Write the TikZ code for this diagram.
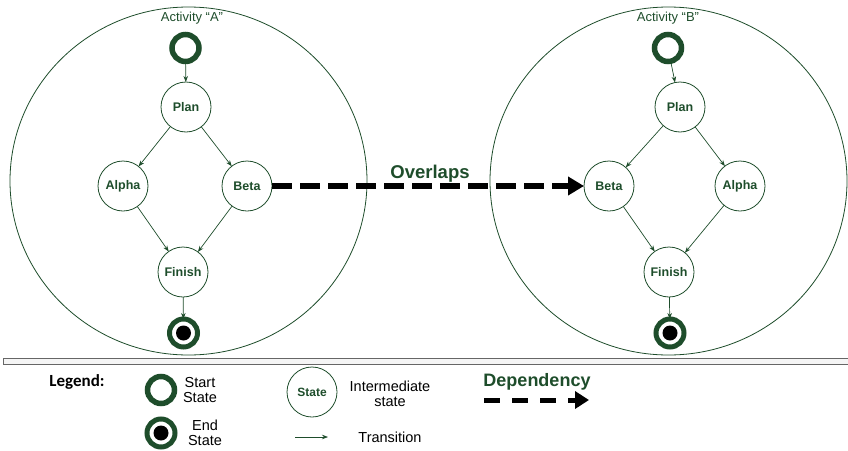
\documentclass[tikz,border=0pt]{standalone}
\usepackage{fontspec}
\setmainfont{Liberation Sans}
\newfontfamily\calf{Carlito}
\usetikzlibrary{arrows.meta,shapes.geometric}
\definecolor{dg}{HTML}{1E4D2B}
\begin{document}
\begin{tikzpicture}[x=1pt,y=-1pt,
  every node/.style={inner sep=0pt,outer sep=0pt},
  act/.style={draw=dg,line width=0.8pt,ellipse,minimum width=357pt,minimum height=348pt},
  st/.style={draw=dg,line width=0.8pt,circle,minimum size=50pt,font=\bfseries\fontsize{12.5}{13}\selectfont,text=dg},
  startst/.style={draw=dg,line width=5.5pt,circle,minimum size=27pt},
  endst/.style={draw=dg,line width=5pt,circle,minimum size=28pt},
  dot/.style={fill=black,circle,minimum size=15pt},
  tr/.style={draw=dg,line width=0.7pt,-{Stealth[length=6pt,width=4.5pt]}},
  dep/.style={line width=6pt,dash pattern=on 20pt off 8pt,-{Triangle[length=16pt,width=18pt]}},
  lbl/.style={font=\fontsize{13}{14}\selectfont,text=dg},
  lg/.style={font=\fontsize{14.5}{15.5}\selectfont,align=center}
]
\useasboundingbox (0,0) rectangle (848,450);
% activity circles
\node[act] (actA) at (188.5,181) {};
\node[act] (actB) at (668.5,181) {};
\node[lbl] (tA) at (192,18) {Activity “A”};
\node[lbl] (tB) at (668,18) {Activity “B”};
% activity A
\node[startst] (sA) at (185.5,48) {};
\node[st] (pA) at (186,107) {Plan};
\node[st] (aA) at (123,186) {Alpha};
\node[st] (bA) at (247,186) {Beta};
\node[st] (fA) at (183,272) {Finish};
\node[endst] (eA) at (183.5,333) {};
\node[dot] (eAd) at (183.5,333) {};
\draw[tr] (sA) -- (pA);
\draw[tr] (pA) -- (aA);
\draw[tr] (pA) -- (bA);
\draw[tr] (aA) -- (fA);
\draw[tr] (bA) -- (fA);
\draw[tr] (fA) -- (eA);
% activity B
\node[startst] (sB) at (668,48) {};
\node[st] (pB) at (680,107) {Plan};
\node[st] (bB) at (609,186) {Beta};
\node[st] (aB) at (740,186) {Alpha};
\node[st] (fB) at (669,272) {Finish};
\node[endst] (eB) at (670,333) {};
\node[dot] (eBd) at (670,333) {};
\draw[tr] (sB) -- (pB);
\draw[tr] (pB) -- (bB);
\draw[tr] (pB) -- (aB);
\draw[tr] (bB) -- (fB);
\draw[tr] (aB) -- (fB);
\draw[tr] (fB) -- (eB);
% dependency
\draw[dep] (bA) -- (bB);
\node[font=\bfseries\fontsize{18.5}{19}\selectfont,text=dg] (ov) at (430,174) {Overlaps};
% separator
\draw[draw=gray!80!black,line width=1pt,fill=gray!8] (3,358) rectangle (852,364);
% legend
\node[font=\calf\bfseries\fontsize{17}{18}\selectfont] (lgd) at (77,382) {Legend:};
\node[startst] (ls) at (161,390) {};
\node[lg] (lst) at (200,390) {Start\\State};
\node[endst] (le) at (161,433) {};
\node[dot] (led) at (161,433) {};
\node[lg] (let) at (205,433) {End\\State};
\node[st,font=\bfseries\fontsize{12}{13}\selectfont] (lis) at (312,392) {State};
\node[lg] (lit) at (390,394) {Intermediate\\state};
\coordinate (lt1) at (295,437);
\coordinate (lt2) at (328,437);
\draw[tr] (lt1) -- (lt2);
\node[lg] (ltt) at (390,437) {Transition};
\node[font=\bfseries\fontsize{18}{19}\selectfont,text=dg] (ldep) at (537,382) {Dependency};
\coordinate (ld1) at (484,400);
\coordinate (ld2) at (589,400);
\draw[dep,line width=5pt,dash pattern=on 16pt off 12pt,-{Triangle[length=14pt,width=17pt]}] (ld1) -- (ld2);
\end{tikzpicture}
\end{document}
